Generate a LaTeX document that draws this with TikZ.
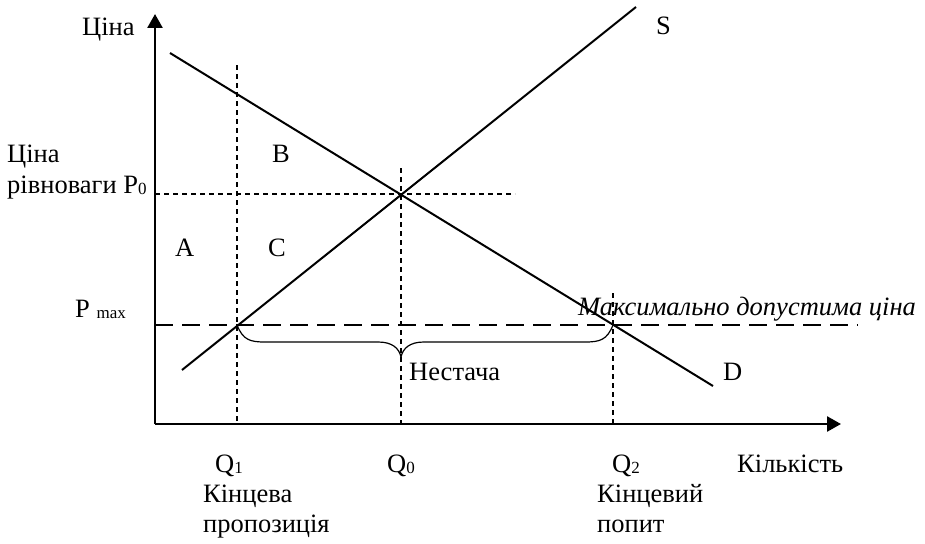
\documentclass[tikz,border=0pt]{standalone}
\usepackage{fontspec}
\setmainfont{Liberation Serif}
\usetikzlibrary{arrows.meta}
\newcommand{\subtxt}[1]{\raisebox{-1.5pt}{\fontsize{17}{19}\selectfont #1}}
\begin{document}
\begin{tikzpicture}[x=1pt,y=-1pt,
  lbl/.style={inner sep=0pt,anchor=base west,font=\fontsize{26.5}{30}\selectfont},
  axis/.style={line width=2.6pt,-{Triangle[length=14pt,width=15pt]}},
  curve/.style={line width=2pt},
  guide/.style={line width=1.1pt,dash pattern=on 5pt off 4pt},
  ceiling/.style={line width=2.8pt,dash pattern=on 18pt off 9pt},
  bracestyle/.style={line width=1.2pt}]
\useasboundingbox (0,0) rectangle (925,543);
% coordinates
\coordinate (O) at (155,424);
\coordinate (Ytop) at (155,14);
\coordinate (Xend) at (841,424);
\coordinate (D1) at (170,53);
\coordinate (D2) at (713,386);
\coordinate (S1) at (182,370);
\coordinate (S2) at (636,7);
\coordinate (P0l) at (155,194);
\coordinate (P0r) at (515,194);
\coordinate (Q1t) at (237,65);
\coordinate (Q1b) at (237,424);
\coordinate (Q0t) at (401,168);
\coordinate (Q0b) at (401,424);
\coordinate (Q2t) at (613,293);
\coordinate (Q2b) at (613,424);
\coordinate (Pml) at (155,325);
\coordinate (Pmr) at (858,325);
\coordinate (B1) at (237,325);
\coordinate (B2) at (613,325);
\coordinate (Btip) at (401,357);
% guides
\draw[guide] (P0l) -- (P0r);
\draw[guide] (Q1t) -- (Q1b);
\draw[guide] (Q0t) -- (Q0b);
\draw[guide] (Q2t) -- (Q2b);
% ceiling
\draw[ceiling] (Pml) -- (Pmr);
% curves
\draw[curve] (D1) -- (D2);
\draw[curve] (S1) -- (S2);
% brace
\draw[bracestyle] (B1) .. controls (243,340) and (250,342) .. (265,342)
  -- (378,342) .. controls (392,342) and (399,348) .. (Btip)
  .. controls (403,348) and (410,342) .. (424,342)
  -- (585,342) .. controls (600,342) and (607,340) .. (B2);
% axes
\draw[axis] (O) -- (Ytop);
\draw[axis] (O) -- (Xend);
% labels
\node[lbl] (tprice) at (82,36) {Ціна};
\node[lbl] (teq1) at (7,162) {Ціна};
\node[lbl] (teq2) at (7,193) {рівноваги P\subtxt{0}};
\node[lbl] (tB) at (272,162) {B};
\node[lbl] (tA) at (175,256) {A};
\node[lbl] (tC) at (268,256) {C};
\node[lbl] (tPm) at (75,317) {P \subtxt{max}};
\node[lbl,font=\fontsize{26.5}{30}\selectfont\itshape] (tceil) at (578,315) {Максимально допустима ціна};
\node[lbl] (tS) at (656,35) {S};
\node[lbl] (tD) at (723,380) {D};
\node[lbl] (tshort) at (409,380) {Нестача};
\node[lbl] (tQ1) at (215,472) {Q\subtxt{1}};
\node[lbl] (tQ0) at (387,472) {Q\subtxt{0}};
\node[lbl] (tQ2) at (612,472) {Q\subtxt{2}};
\node[lbl] (tqty) at (737,472) {Кількість};
\node[lbl] (tks1) at (203,502) {Кінцева};
\node[lbl] (tks2) at (203,532) {пропозиція};
\node[lbl] (tkd1) at (597,502) {Кінцевий};
\node[lbl] (tkd2) at (597,532) {попит};
\end{tikzpicture}
\end{document}
